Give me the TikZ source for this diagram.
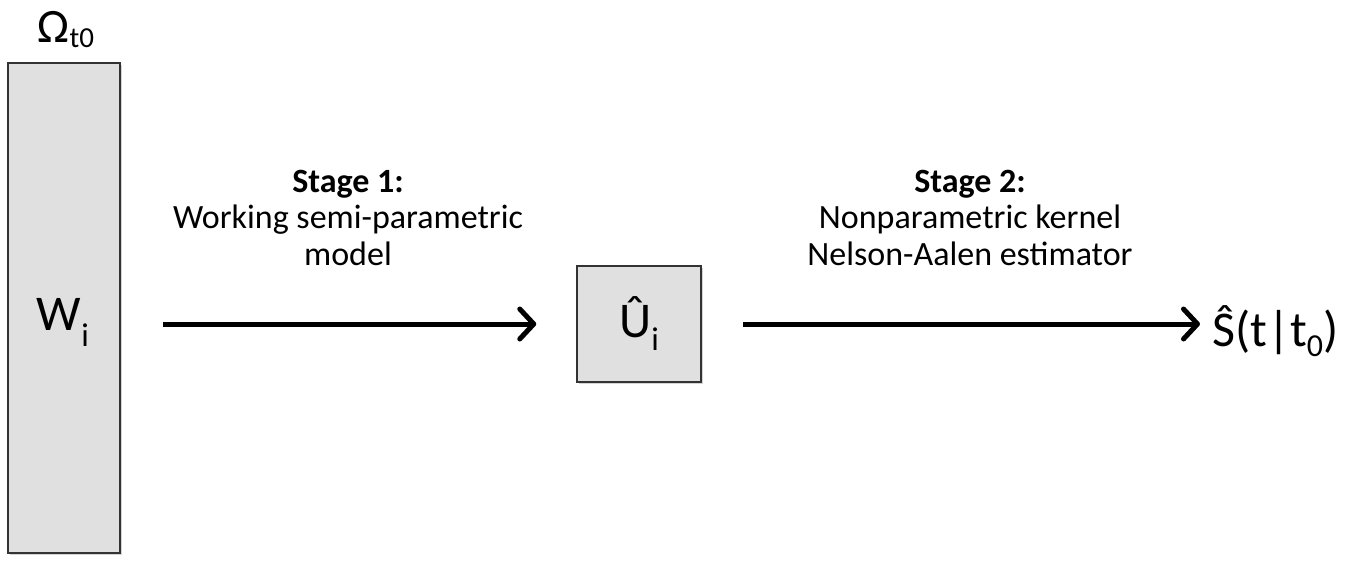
\documentclass[tikz,border=0pt]{standalone}
\usepackage{fontspec}
\setmainfont{Carlito}
\usetikzlibrary{arrows.meta,shadows,positioning}
\newcommand{\lowsub}[3]{\raisebox{-#1}{\fontsize{#2}{#2}\selectfont #3}}
\begin{document}
\begin{tikzpicture}[x=1pt,y=-1pt,
    every node/.style={inner sep=0pt},
    greybox/.style={draw=black!80, line width=1.5pt, fill=black!12,
      drop shadow={shadow xshift=2pt,shadow yshift=-2pt,opacity=.35}},
    flow/.style={line width=5pt, -{Straight Barb[length=14pt,width=30pt,round]}},
    bigtext/.style={font=\fontsize{50}{52}\selectfont},
    stagelabel/.style={align=center, anchor=north, font=\fontsize{34}{36.5}\selectfont}]
    \useasboundingbox (0,0) rectangle (1365,570);

    % boxes and symbols
    \node[greybox, minimum width=112pt, minimum height=490pt] (W) at (64,308) {};
    \node[bigtext] (Wi) at (63,322) {W\lowsub{16pt}{33}{i}};
    \node[font=\fontsize{48}{50}\selectfont, anchor=base] (Om) at (66,42) {Ω\lowsub{5pt}{29}{t0}};
    \node[greybox, minimum width=124pt, minimum height=116pt, bigtext] (U) at (639,324) {Û\lowsub{13pt}{33}{i}};
    \node[bigtext, anchor=base west] (S) at (1212,346) {Ŝ(t|t\lowsub{10pt}{32}{0})};

    % stage labels
    \node[stagelabel] (st1) at (348,170) {\textbf{Stage 1:}\\Working semi-parametric\\model};
    \node[stagelabel] (st2) at (970,170) {\textbf{Stage 2:}\\Nonparametric kernel\\Nelson-Aalen estimator};

    % arrows
    \draw[flow, shorten <=42pt, shorten >=40pt] (W.east |- U.west) -- (U.west);
    \draw[flow, shorten <=41pt, shorten >=12pt] (U.east) -- (U.east -| S.west);
\end{tikzpicture}
\end{document}
